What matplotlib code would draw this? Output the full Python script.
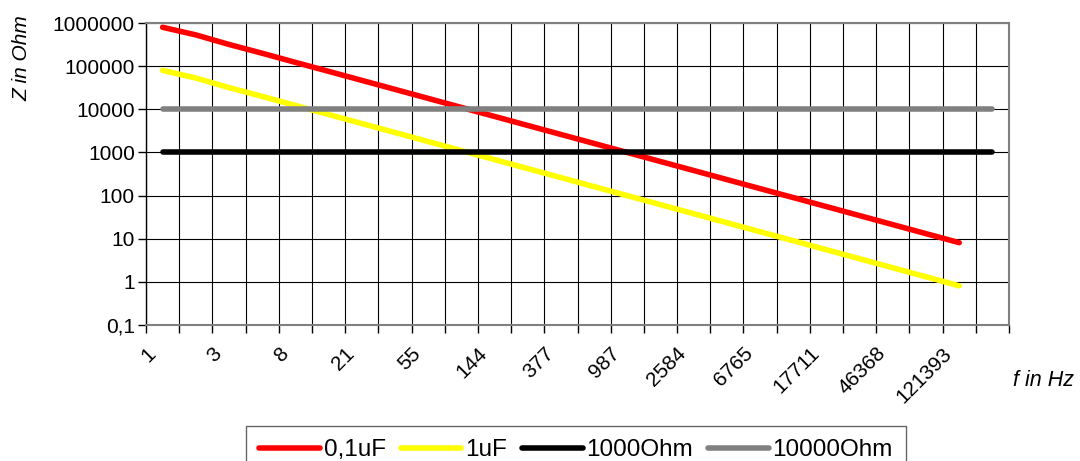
import matplotlib
matplotlib.use("Agg")
import matplotlib.pyplot as plt
from matplotlib.transforms import ScaledTranslation

plt.rcParams["font.family"] = ["Liberation Sans", "DejaVu Sans"]

# Fibonacci frequencies (category axis)
freqs = [1, 2, 3, 5, 8, 13, 21, 34, 55, 89, 144, 233, 377, 610, 987, 1597,
         2584, 4181, 6765, 10946, 17711, 28657, 46368, 75025, 121393, 196418]

# impedance values
z_100n = [795775, 530516, 318310, 198944, 122427, 75788, 46810, 28937, 17882,
          11052, 6831, 4222, 2609, 1613, 997, 616, 381, 235, 145, 89.9, 55.5,
          34.3, 21.2, 13.1, 8.1]
z_1u = [79577, 53052, 31831, 19894, 12243, 7579, 4681, 2894, 1788, 1105, 683,
        422, 261, 161, 99.7, 61.6, 38.1, 23.5, 14.5, 8.99, 5.55, 3.43, 2.12,
        1.31, 0.81]
z_r1k = [1000] * 26
z_r10k = [10000] * 26

y_ticks = [0.1, 1, 10, 100, 1000, 10000, 100000, 1000000]
y_labels = ["0,1", "1", "10", "100", "1000", "10000", "100000", "1000000"]

fig = plt.figure(figsize=(10.8, 4.61), dpi=100)
ax = fig.add_axes([146 / 1080, 1 - 325 / 461, (1009 - 146) / 1080, (325 - 23) / 461])

series = [
    (z_100n, "#FF0000", "0,1uF"),
    (z_1u, "#FFFF00", "1uF"),
    (z_r1k, "#000000", "1000Ohm"),
    (z_r10k, "#808080", "10000Ohm"),
]
for vals, col, lab in series:
    ax.plot(range(len(vals)), vals, color=col, lw=4, solid_capstyle="round",
            label=lab, zorder=3)

ax.set_yscale("log")
ax.set_ylim(0.1, 1000000)
ax.set_yticks(y_ticks)
ax.set_yticklabels(y_labels)
ax.yaxis.set_minor_locator(matplotlib.ticker.NullLocator())
ax.tick_params(axis="y", length=6, width=1, labelsize=15, pad=2, direction="out")

n = len(freqs)
ax.set_xlim(-0.5, n - 0.5)
ax.set_xticks(range(n))
ax.set_xticklabels([str(f) if i % 2 == 0 else "" for i, f in enumerate(freqs)],
                   rotation=45, ha="right", va="top", rotation_mode="anchor")
ax.set_xticks([i - 0.5 for i in range(n + 1)], minor=True)
ax.tick_params(axis="x", which="major", length=0, labelsize=15, pad=13.5)
ax.tick_params(axis="x", which="minor", length=6, width=1, direction="out")
shift = ScaledTranslation(-17 / 100, 0, fig.dpi_scale_trans)
for lbl in ax.get_xticklabels():
    lbl.set_transform(lbl.get_transform() + shift)

ax.grid(True, axis="y", which="major", color="#000000", lw=0.8, zorder=1)
ax.grid(True, axis="x", which="minor", color="#000000", lw=0.8, zorder=1)

for side in ["top", "right", "bottom"]:
    ax.spines[side].set_color("#808080")
    ax.spines[side].set_linewidth(1.5)
ax.spines["left"].set_color("#000000")
ax.spines["left"].set_linewidth(1)

fig.text(22 / 1080, 1 - 58 / 461, "Z in Ohm", rotation=90, style="italic",
         fontsize=15, ha="center", va="center")
fig.text(1074 / 1080, 1 - 381 / 461, "f in Hz", style="italic", fontsize=15.5,
         ha="right", va="center")

# legend sits at the bottom edge, its lower border falls outside the figure
leg = fig.legend(loc="upper left", bbox_to_anchor=(246 / 1080, 1 - 426 / 461),
                 ncol=4, fontsize=17.5, frameon=True, fancybox=False,
                 handlelength=2.5, handletextpad=0.16, columnspacing=0.6,
                 borderpad=0.55, borderaxespad=0)
leg.get_frame().set_edgecolor("#404040")
leg.get_frame().set_linewidth(1)

fig.savefig("out.png", dpi=100)
